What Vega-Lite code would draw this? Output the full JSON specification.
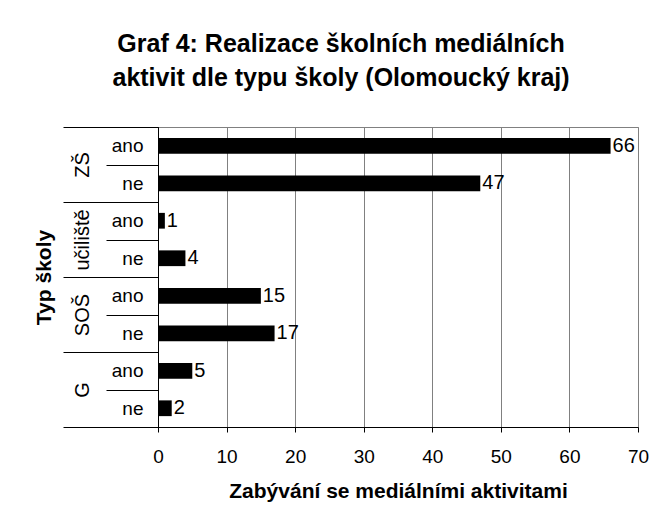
{
  "$schema": "https://vega.github.io/schema/vega-lite/v6.json",
  "width": 480,
  "height": 300,
  "padding": {"left": 33, "top": 32, "right": 5, "bottom": 5},
  "background": "white",
  "config": {"font": "Liberation Sans", "view": {"stroke": "#808080", "strokeWidth": 1}},
  "title": {
    "text": ["Graf 4: Realizace školních mediálních", "aktivit dle typu školy (Olomoucký kraj)"],
    "font": "Liberation Sans",
    "fontSize": 25,
    "fontWeight": "bold",
    "lineHeight": 34,
    "offset": 27,
    "anchor": "middle",
    "frame": "bounds",
    "color": "black"
  },
  "data": {
    "values": [
      {"key": "ZŠ-ano", "group": "ZŠ", "sub": "ano", "value": 66},
      {"key": "ZŠ-ne", "group": "ZŠ", "sub": "ne", "value": 47},
      {"key": "učiliště-ano", "group": "učiliště", "sub": "ano", "value": 1},
      {"key": "učiliště-ne", "group": "učiliště", "sub": "ne", "value": 4},
      {"key": "SOŠ-ano", "group": "SOŠ", "sub": "ano", "value": 15},
      {"key": "SOŠ-ne", "group": "SOŠ", "sub": "ne", "value": 17},
      {"key": "G-ano", "group": "G", "sub": "ano", "value": 5},
      {"key": "G-ne", "group": "G", "sub": "ne", "value": 2}
    ]
  },
  "layer": [
    {
      "layer": [
        {
          "mark": {"type": "bar", "color": "black", "height": {"band": 0.42}},
          "encoding": {
            "y": {
              "field": "key", "type": "nominal", "sort": null,
              "scale": {"paddingInner": 0, "paddingOuter": 0},
              "axis": {
                "title": null,
                "labelExpr": "split(datum.value, '-')[1]",
                "tickBand": "extent",
                "tickSize": 52,
                "tickColor": "black",
                "domainColor": "black",
                "labelPadding": -37,
                "labelFontSize": 19,
                "labelColor": "black",
                "labelFont": "Liberation Sans"
              }
            },
            "x": {
              "field": "value", "type": "quantitative",
              "scale": {"domain": [0, 70], "nice": false},
              "axis": {
                "values": [0, 10, 20, 30, 40, 50, 60, 70],
                "title": "Zabývání se mediálními aktivitami",
                "titleFontSize": 21,
                "titleFontWeight": "bold",
                "titleColor": "black",
                "titlePadding": 14,
                "grid": true,
                "gridColor": "#808080",
                "gridOpacity": 1,
                "domainColor": "black",
                "tickColor": "black",
                "tickSize": 5,
                "labelFontSize": 19,
                "labelColor": "black",
                "labelPadding": 15,
                "labelFlush": false
              }
            }
          }
        },
        {
          "mark": {"type": "text", "align": "left", "dx": 2, "fontSize": 20, "color": "black", "font": "Liberation Sans"},
          "encoding": {
            "y": {"field": "key", "type": "nominal", "sort": null},
            "x": {"field": "value", "type": "quantitative"},
            "text": {"field": "value", "type": "quantitative"}
          }
        }
      ]
    },
    {
      "mark": {"type": "point", "opacity": 0},
      "encoding": {
        "y": {
          "field": "group", "type": "nominal", "sort": null,
          "scale": {"paddingInner": 0, "paddingOuter": 0},
          "axis": {
            "orient": "left",
            "title": "Typ školy",
            "titleFontSize": 21,
            "titleFontWeight": "bold",
            "titleColor": "black",
            "titlePadding": 8,
            "domain": false,
            "tickBand": "extent",
            "tickSize": 95,
            "tickColor": "black",
            "labelAngle": -90,
            "labelAlign": "center",
            "labelBaseline": "bottom",
            "labelPadding": -29,
            "labelFontSize": 20,
            "labelColor": "black"
          }
        },
        "x": {"field": "value", "type": "quantitative"}
      }
    }
  ],
  "resolve": {"scale": {"y": "independent"}, "axis": {"y": "independent"}}
}
